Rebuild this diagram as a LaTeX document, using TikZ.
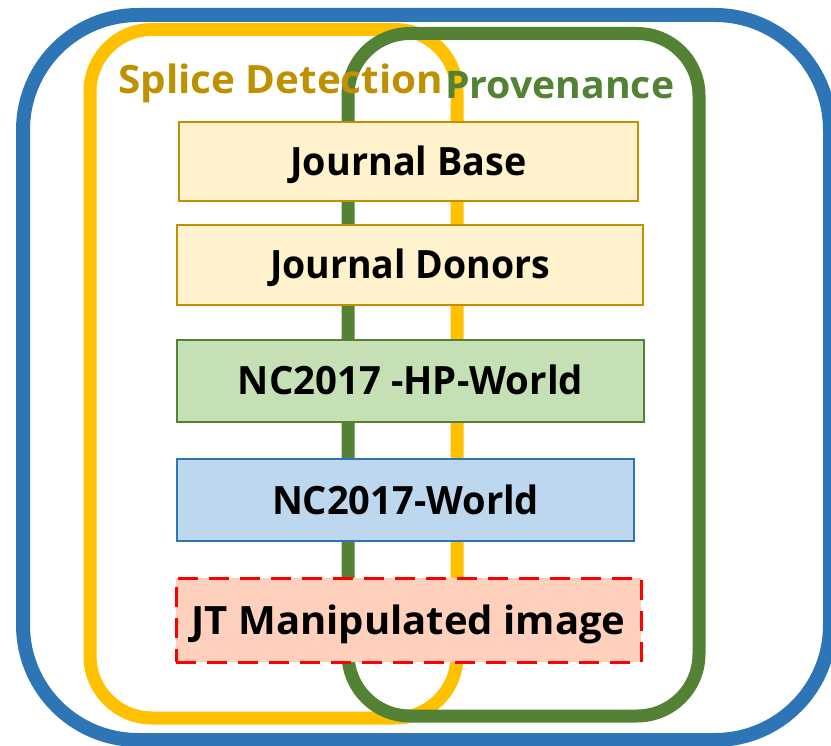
\documentclass[tikz,border=0pt]{standalone}
\usepackage{fontspec}
\usepackage{graphicx}
\setmainfont{Open Sans}
\definecolor{blueC}{HTML}{2E75B6}
\definecolor{yellowC}{HTML}{FFC000}
\definecolor{greenC}{HTML}{548235}
\definecolor{goldC}{HTML}{BF9000}
\definecolor{fillY}{HTML}{FFF2CC}
\definecolor{fillG}{HTML}{C5E0B4}
\definecolor{fillB}{HTML}{BDD7EE}
\definecolor{fillR}{HTML}{FFD0BC}
\newlength\fitlen
\newcommand\fitw[2]{\settowidth\fitlen{#2}\pgfmathsetmacro\fitfac{#1/\fitlen}\scalebox{\fitfac}[1]{#2}}
\tikzset{
  ring/.style={line width=13pt, rounded corners=62pt},
  dbox/.style={draw, line width=2pt, inner sep=0pt, text height=28pt, text depth=0pt,
    font=\fontsize{39}{40}\selectfont\bfseries, text=black},
  ybox/.style={dbox, draw=goldC, fill=fillY},
  gbox/.style={dbox, draw=greenC, fill=fillG},
  bbox/.style={dbox, draw=blueC, fill=fillB},
  rbox/.style={dbox, draw=red, fill=fillR, line width=3pt, dash pattern=on 20pt off 11pt},
  ttl/.style={anchor=base west, inner sep=0pt}
}
\begin{document}
\begin{tikzpicture}[x=1pt,y=-1pt]
\useasboundingbox (0,0) rectangle (831,746);
\draw[blueC, line width=14pt, rounded corners=115pt] (23,15) rectangle (830,740);
\draw[ring, yellowC] (90,29.5) rectangle (457,718);
\draw[ring, greenC] (348,33.5) rectangle (699,716);
\node[ttl, text=goldC, font=\fontsize{39}{40}\selectfont\bfseries] (sd) at (118,94) {\fitw{325}{Splice Detection}};
\node[ybox, minimum width=459pt, minimum height=79pt] (jb) at (408.5,161.5) {\fitw{236}{Journal Base}};
\node[ybox, minimum width=466pt, minimum height=80pt] (jd) at (410,265) {\fitw{280}{Journal Donors}};
\node[gbox, minimum width=467pt, minimum height=82pt] (hp) at (410.5,381) {\fitw{345}{NC2017 -HP-World}};
\node[bbox, minimum width=457pt, minimum height=82pt] (nw) at (405.5,500) {\fitw{267}{NC2017-World}};
\node[rbox, minimum width=465pt, minimum height=84pt] (jt) at (408.5,620) {\fitw{434}{JT Manipulated image}};
\node[ttl, text=greenC, font=\fontsize{38}{40}\selectfont\bfseries] (pv) at (445,99) {\fitw{229}{Provenance}};
\end{tikzpicture}
\end{document}
